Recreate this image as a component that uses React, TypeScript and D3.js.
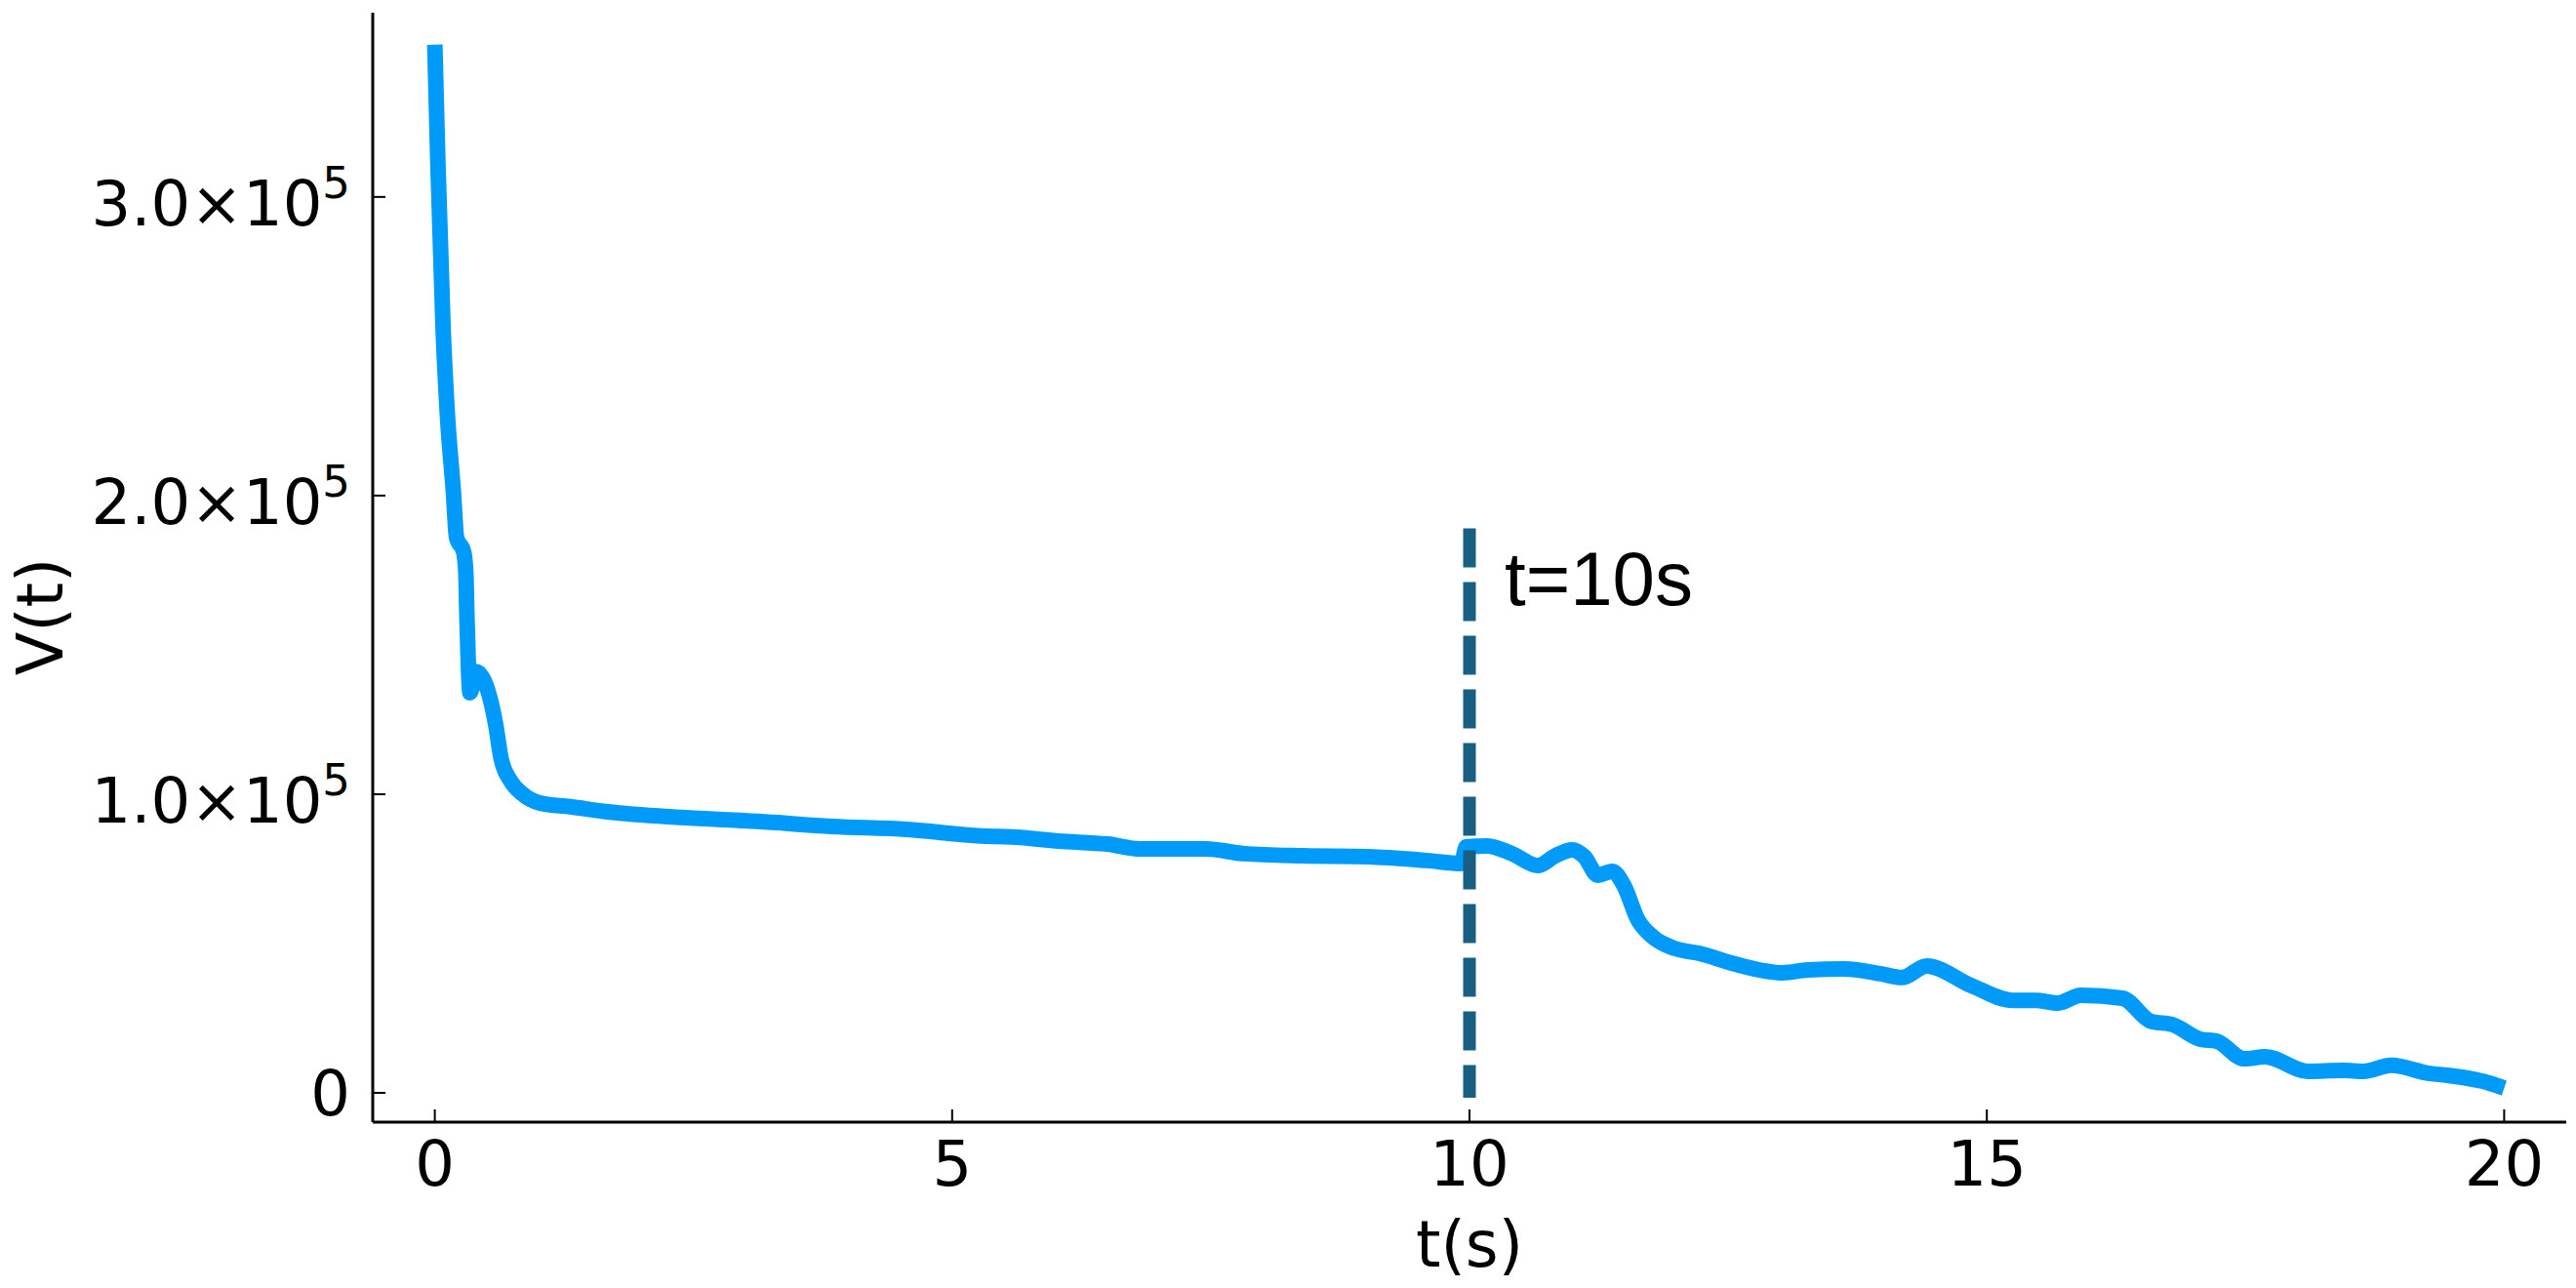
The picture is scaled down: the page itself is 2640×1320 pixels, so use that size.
import React from "react";
import * as d3 from "d3";

// ---- data ----
const tData: number[] = [
  0, 0.03, 0.08, 0.12, 0.18, 0.21, 0.28, 0.3, 0.31, 0.32, 0.33, 0.34, 0.4,
  0.51, 0.59, 0.64, 0.73, 0.84, 1.02, 1.31, 1.67, 2.39, 3.12, 3.84, 4.56, 5.28,
  5.62, 6.03, 6.5, 6.82, 7.45, 7.82, 8.39, 9.02, 9.59, 9.92, 9.97, 10.17, 10.41,
  10.66, 10.83, 10.99, 11.11, 11.24, 11.38, 11.49, 11.63, 11.77, 11.98, 12.22,
  12.57, 13.03, 13.27, 13.62, 13.97, 14.18, 14.42, 14.85, 15.25, 15.47, 15.69,
  15.91, 16.31, 16.59, 16.79, 17.06, 17.22, 17.49, 17.69, 18.1, 18.44, 18.64,
  18.91, 19.28, 19.45, 19.79, 20.0,
];
const vData: number[] = [
  351000, 311000, 256000, 228000, 201000, 186000, 181000, 174000, 160000,
  148000, 138000, 134000, 141000, 135000, 123000, 112000, 104600, 100300, 97000,
  95800, 94100, 92200, 90900, 89200, 88200, 86000, 85600, 84300, 83300, 81700,
  81700, 80100, 79400, 79100, 77800, 76800, 82400, 82700, 80100, 76100, 79400,
  81400, 79100, 72900, 74200, 69600, 57800, 52300, 48400, 46700, 43100, 40200,
  41200, 41500, 39900, 38600, 42500, 35900, 31000, 31000, 30100, 32700, 31700,
  23900, 22900, 18000, 17300, 11400, 12100, 7200, 7500, 7200, 9200, 6500, 5900,
  3900, 1600,
];
const xTicks: number[] = [0, 5, 10, 15, 20];
const yTicks: number[] = [0, 100000, 200000, 300000];
const yTickMantissa: string[] = ["0", "1.0×10", "2.0×10", "3.0×10"];
const yTickExponent: string[] = ["", "5", "5", "5"];
const markerT = 10;
const markerRange: number[] = [0, 189000];
const markerLabel = "t=10s";
const xLabel = "t(s)";
const yLabel = "V(t)";

export default function App() {
  const W = 2640;
  const H = 1320;
  const x = d3.scaleLinear().domain([-0.6, 20.6]).range([382, 2630]);
  const y = d3.scaleLinear().domain([-9800, 361700]).range([1150, 13]);
  const pts: [number, number][] = tData.map((t, i) => [t, vData[i]]);
  const line = d3
    .line<[number, number]>()
    .x((d) => x(d[0]))
    .y((d) => y(d[1]))
    .curve(d3.curveMonotoneX);
  const font = "'DejaVu Sans', sans-serif";
  const [x0, x1] = x.range();
  const [yb, yt] = y.range();
  return (
    <svg
      width={W}
      height={H}
      style={{ position: "absolute", left: 0, top: 0, background: "#fff" }}
    >
      <rect x={0} y={0} width={W} height={H} fill="#fff" />
      {/* series */}
      <path
        d={line(pts) || ""}
        fill="none"
        stroke="#009AF9"
        strokeWidth={16}
        strokeLinejoin="round"
        strokeLinecap="butt"
      />
      {/* marker line */}
      <line
        x1={x(markerT)}
        x2={x(markerT)}
        y1={y(markerRange[1])}
        y2={y(markerRange[0]) + 5}
        stroke="#185F82"
        strokeWidth={13}
        strokeDasharray="40 15"
      />
      <text
        x={x(markerT) + 36}
        y={620}
        fontFamily="'Liberation Sans', Arial, sans-serif"
        fontSize={78}
        fill="#000"
      >
        {markerLabel}
      </text>
      {/* axes */}
      <line x1={x0} x2={x0} y1={yt} y2={yb} stroke="#000" strokeWidth={3} />
      <line x1={x0} x2={x1} y1={yb} y2={yb} stroke="#000" strokeWidth={3} />
      {xTicks.map((t) => (
        <g key={"xt" + t}>
          <line x1={x(t)} x2={x(t)} y1={yb} y2={yb - 13} stroke="#000" strokeWidth={2} />
          <text x={x(t)} y={1215} textAnchor="middle" fontFamily={font} fontSize={64} fill="#000">
            {t}
          </text>
        </g>
      ))}
      {yTicks.map((v, i) => (
        <g key={"yt" + v}>
          <line x1={x0} x2={x0 + 13} y1={y(v)} y2={y(v)} stroke="#000" strokeWidth={2} />
          <text
            x={359}
            y={y(v) + (yTickExponent[i] ? 29 : 23)}
            textAnchor="end"
            fontFamily={font}
            fontSize={64}
            fill="#000"
          >
            {yTickMantissa[i]}
            {yTickExponent[i] ? (
              <tspan dy={-28} fontSize={45}>
                {yTickExponent[i]}
              </tspan>
            ) : null}
          </text>
        </g>
      ))}
      <text x={(x0 + x1) / 2} y={1298} textAnchor="middle" fontFamily={font} fontSize={65} fill="#000">
        {xLabel}
      </text>
      <text
        transform={`translate(64, 632) rotate(-90)`}
        textAnchor="middle"
        fontFamily={font}
        fontSize={65}
        fill="#000"
      >
        {yLabel}
      </text>
    </svg>
  );
}
